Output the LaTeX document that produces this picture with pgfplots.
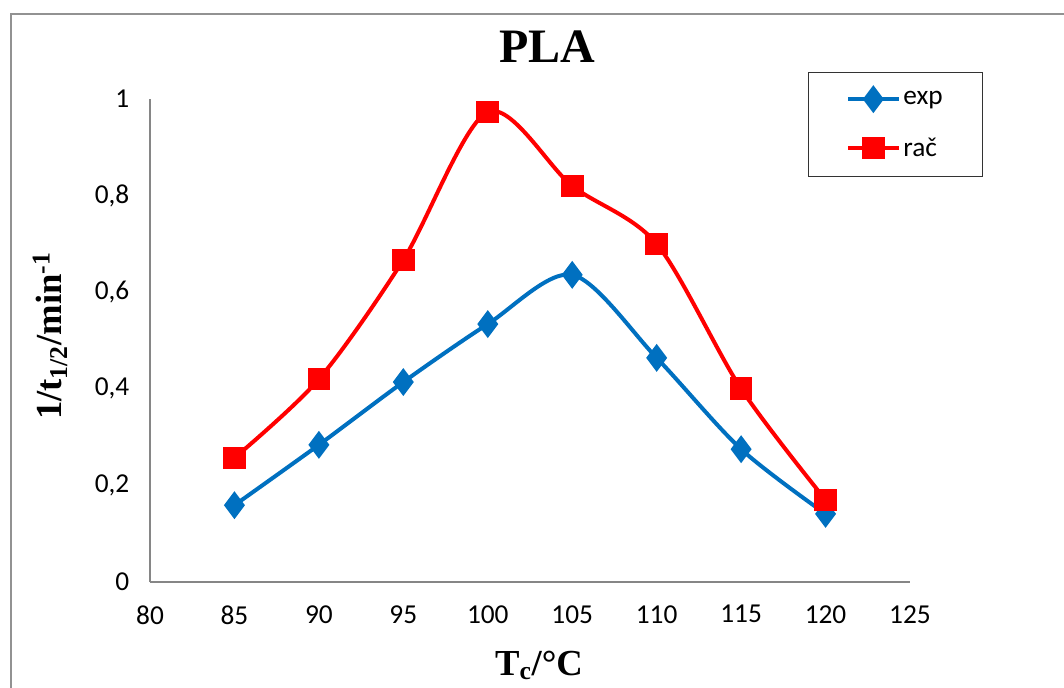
\documentclass[border=0pt]{standalone}
\usepackage{fontspec}
\setmainfont{Carlito}
\newfontfamily\serifbold{Liberation Serif}
\usepackage{pgfplots}
\pgfplotsset{compat=1.18}
\definecolor{expblue}{RGB}{0,112,192}
\definecolor{axgray}{RGB}{134,134,134}
\begin{document}
\begin{tikzpicture}[x=0.75pt,y=0.75pt]
\useasboundingbox (0,0) rectangle (1064,687);
\clip (0,0) rectangle (1064,687);
\draw[color=axgray!90,line width=2.2pt] (11,-30) rectangle (1090,673);
\begin{axis}[
  at={(112.5pt,78.75pt)}, anchor=south west,
  scale only axis, width=570pt, height=362.25pt,
  xmin=80, xmax=125, ymin=0, ymax=1,
  xtick={80,85,...,125}, ytick={0,0.2,...,1},
  axis x line=bottom, axis y line=left,
  axis line style={-, color=axgray, line width=1.4pt},
  major tick length=0pt,
  tick label style={font=\fontsize{20.5}{24}\selectfont, black},
  /pgf/number format/assume math mode=true,
  /pgf/number format/use comma,
  yticklabel style={xshift=-12pt},
  xticklabel style={yshift=-14pt},
  clip=false,
  legend style={at={(0.866,1.056)}, anchor=north west, draw=black!80, line width=0.8pt,
    font=\fontsize{20.5}{24}\selectfont, inner xsep=28pt, inner ysep=12pt, row sep=19pt,
    legend cell align=left},
  legend image code/.code={
    \draw[#1, line width=3pt] (0pt,0pt) -- (38pt,0pt);
    \draw[#1, only marks] plot coordinates {(19pt,0pt)};
  },
]
\addplot[color=expblue, line width=3pt, smooth, tension=0.5, mark=diamond*, mark size=8pt, mark options={solid, fill=expblue}]
coordinates {(85,0.159) (90,0.284) (95,0.414) (100,0.534) (105,0.636) (110,0.464) (115,0.275) (120,0.141)};
\addlegendentry{exp}
\addplot[color=red, line width=3pt, smooth, tension=0.5, mark=square*, mark size=7pt, mark options={solid, fill=red}]
coordinates {(85,0.257) (90,0.420) (95,0.667) (100,0.973) (105,0.820) (110,0.700) (115,0.400) (120,0.170)};
\addlegendentry{rač}
\end{axis}
\node[font=\serifbold\bfseries\fontsize{36}{40}\selectfont] at (547,640) {PLA};
\node[font=\serifbold\bfseries\fontsize{27.5}{32}\selectfont, anchor=base] at (539,12) {T\textsubscript{c}/°C};
\node[font=\serifbold\bfseries\fontsize{27.5}{32}\selectfont, rotate=90] at (50,351) {1/t\textsubscript{1/2}/min\textsuperscript{-1}};
\end{tikzpicture}
\end{document}
